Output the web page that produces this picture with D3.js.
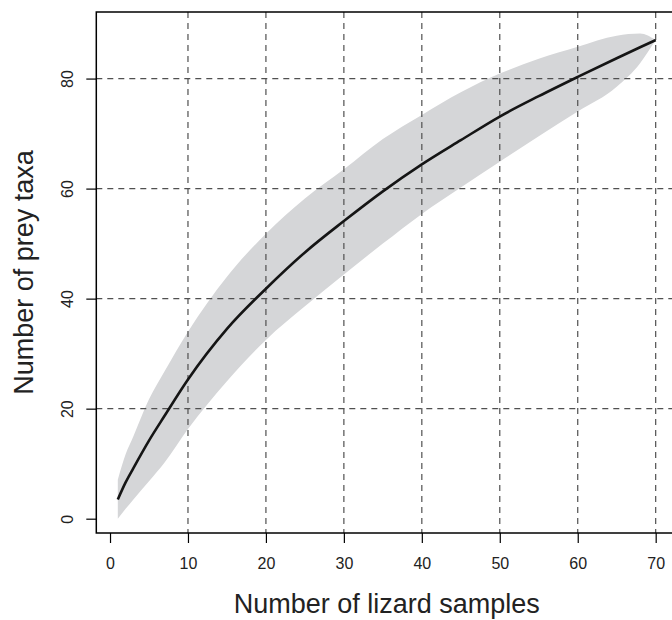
<!DOCTYPE html>
<html>
<head>
<meta charset="utf-8">
<script src="https://cdn.jsdelivr.net/npm/d3@7"></script>
<style>
  body { margin: 0; background: #fff; }
  text { font-family: "Liberation Sans", Arial, Helvetica, sans-serif; }
</style>
</head>
<body>
<div id="plot"></div>
<script>
// rarefaction curve values
var sampleX = [1, 2, 3, 5, 7, 10, 15, 20, 25, 30, 35, 40, 45, 50, 55, 60, 65, 68, 70];
var richness = [3.5, 6.6, 9.2, 14.2, 18.7, 25.3, 34.5, 41.8, 48.4, 54.1, 59.5, 64.4, 68.8, 73.1, 76.8, 80.3, 83.7, 85.7, 87.0];
var upperCI = [7.1, 11.7, 15.0, 21.7, 26.8, 34.0, 44.0, 51.8, 58.2, 63.5, 69.0, 73.4, 77.5, 80.9, 83.6, 85.8, 87.8, 88.2, 87.0];
var lowerCI = [0.0, 1.8, 3.5, 6.8, 10.2, 16.3, 25.0, 32.5, 38.6, 44.4, 50.0, 55.4, 60.2, 64.9, 69.5, 74.0, 78.5, 82.8, 87.0];

var xTicks = [0, 10, 20, 30, 40, 50, 60, 70];
var yTicks = [0, 20, 40, 60, 80];
var xGrid = [10, 20, 30, 40, 50, 60, 70];
var yGrid = [20, 40, 60, 80];

var xLabel = "Number of lizard samples";
var yLabel = "Number of prey taxa";

var width = 672;
var height = 620;
var plot = { left: 96.3, right: 677.2, top: 12, bottom: 533 };

var svg = d3.select("#plot").append("svg")
    .attr("width", width)
    .attr("height", height);

// R style limits: data range padded by 4%
var x = d3.scaleLinear()
    .domain([-1.76, 72.76])
    .range([plot.left, plot.right]);

var y = d3.scaleLinear()
    .domain([-2.6, 92.1])
    .range([plot.bottom, plot.top]);

var rows = sampleX.map(function(d, i) {
    return { x: d, mean: richness[i], hi: upperCI[i], lo: lowerCI[i] };
});

// confidence band
var band = d3.area()
    .curve(d3.curveMonotoneX)
    .x(function(d) { return x(d.x); })
    .y0(function(d) { return y(d.lo); })
    .y1(function(d) { return y(d.hi); });

svg.append("path")
    .datum(rows)
    .attr("d", band)
    .attr("fill", "#d5d6d8");

// dashed grid
svg.append("g")
    .selectAll("line")
    .data(xGrid)
    .enter()
    .append("line")
    .attr("x1", function(d) { return x(d); })
    .attr("x2", function(d) { return x(d); })
    .attr("y1", plot.top)
    .attr("y2", plot.bottom)
    .attr("stroke", "#505050")
    .attr("stroke-width", 1.2)
    .attr("stroke-dasharray", "6,5");

svg.append("g")
    .selectAll("line")
    .data(yGrid)
    .enter()
    .append("line")
    .attr("x1", plot.left)
    .attr("x2", plot.right)
    .attr("y1", function(d) { return y(d); })
    .attr("y2", function(d) { return y(d); })
    .attr("stroke", "#505050")
    .attr("stroke-width", 1.2)
    .attr("stroke-dasharray", "6,5");

// mean curve
var line = d3.line()
    .curve(d3.curveMonotoneX)
    .x(function(d) { return x(d.x); })
    .y(function(d) { return y(d.mean); });

svg.append("path")
    .datum(rows)
    .attr("d", line)
    .attr("fill", "none")
    .attr("stroke", "#151515")
    .attr("stroke-width", 2.6);

// box
svg.append("rect")
    .attr("x", plot.left)
    .attr("y", plot.top)
    .attr("width", plot.right - plot.left)
    .attr("height", plot.bottom - plot.top)
    .attr("fill", "none")
    .attr("stroke", "#000")
    .attr("stroke-width", 1.5);

// axes
var xAxis = svg.append("g")
    .attr("transform", "translate(0," + plot.bottom + ")")
    .call(d3.axisBottom(x).tickValues(xTicks).tickSize(10).tickPadding(15));

var yAxis = svg.append("g")
    .attr("transform", "translate(" + plot.left + ",0)")
    .call(d3.axisLeft(y).tickValues(yTicks).tickSize(10));

[xAxis, yAxis].forEach(function(g) {
    g.select(".domain").remove();
    g.selectAll(".tick line").attr("stroke", "#000").attr("stroke-width", 1.2);
    g.selectAll(".tick text")
        .attr("fill", "#222")
        .style("font-size", "16px")
        .style("font-family", "'Liberation Sans', Arial, Helvetica, sans-serif");
});

// y tick labels read bottom to top, like R's las = 0
yAxis.selectAll(".tick text")
    .attr("x", null)
    .attr("dy", null)
    .attr("text-anchor", "middle")
    .attr("transform", "translate(-23,0) rotate(-90)");

// titles
svg.append("text")
    .attr("x", (plot.left + plot.right) / 2)
    .attr("y", 613)
    .attr("text-anchor", "middle")
    .attr("fill", "#222")
    .style("font-size", "27px")
    .text(xLabel);

svg.append("text")
    .attr("transform", "translate(33," + (plot.top + plot.bottom) / 2 + ") rotate(-90)")
    .attr("text-anchor", "middle")
    .attr("fill", "#222")
    .style("font-size", "27px")
    .text(yLabel);
</script>
</body>
</html>
